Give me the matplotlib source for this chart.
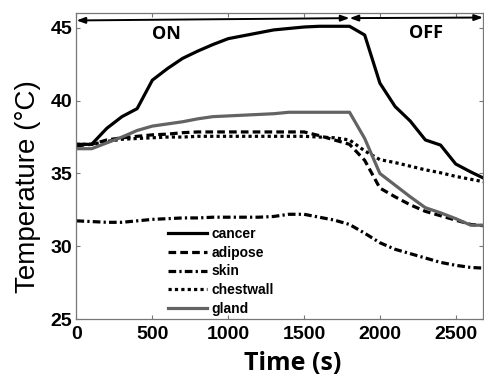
import numpy as np
import matplotlib
matplotlib.use("Agg")
import matplotlib.pyplot as plt

# Time axis (s) and tissue temperatures (deg C)
time_s = [0, 100, 200, 300, 400, 500, 600, 700, 800, 900, 1000, 1100, 1200, 1300,
          1400, 1500, 1600, 1700, 1800, 1900, 2000, 2100, 2200, 2300, 2400, 2500,
          2600, 2700]
cancer = [37.0, 37.0, 38.1, 38.9, 39.45, 41.4, 42.2, 42.9, 43.4, 43.85, 44.25, 44.45,
          44.65, 44.85, 44.95, 45.05, 45.1, 45.1, 45.1, 44.5, 41.2, 39.6, 38.6, 37.3,
          36.95, 35.65, 35.1, 34.6]
adipose = [36.9, 37.0, 37.3, 37.45, 37.55, 37.65, 37.7, 37.8, 37.85, 37.85, 37.85,
           37.85, 37.85, 37.85, 37.85, 37.85, 37.6, 37.3, 37.0, 35.9, 34.0, 33.4,
           32.85, 32.4, 32.1, 31.8, 31.5, 31.4]
skin = [31.75, 31.7, 31.65, 31.65, 31.75, 31.85, 31.9, 31.95, 31.95, 32.0, 32.0, 32.0,
        32.0, 32.05, 32.2, 32.2, 32.0, 31.8, 31.5, 30.9, 30.25, 29.8, 29.5, 29.2, 28.9,
        28.7, 28.55, 28.5]
chestwall = [37.0, 37.0, 37.2, 37.35, 37.4, 37.45, 37.5, 37.5, 37.55, 37.55, 37.55,
             37.55, 37.55, 37.55, 37.55, 37.55, 37.5, 37.45, 37.3, 36.55, 35.95, 35.75,
             35.5, 35.25, 35.05, 34.8, 34.6, 34.4]
gland = [36.7, 36.7, 37.1, 37.5, 37.95, 38.25, 38.4, 38.55, 38.75, 38.9, 38.95, 39.0,
         39.05, 39.1, 39.2, 39.2, 39.2, 39.2, 39.2, 37.4, 35.0, 34.2, 33.4, 32.65, 32.3,
         31.9, 31.45, 31.45]

x_ticks = [0, 500, 1000, 1500, 2000, 2500]
y_ticks = [25, 30, 35, 40, 45]
t_switch = 1800
t_end = 2680

fig = plt.figure(figsize=(4.84, 3.76), dpi=100)
ax = fig.add_axes([0.158, 0.151, 0.840, 0.814])

lw = 2.3
ax.plot(time_s, cancer, color="black", lw=lw, label="cancer")
ax.plot(time_s, adipose, color="black", lw=lw, dashes=(2.4, 1.3), label="adipose")
ax.plot(time_s, skin, color="black", lw=lw, dashes=(2.4, 1.0, 0.7, 1.0), label="skin")
ax.plot(time_s, chestwall, color="black", lw=lw, dashes=(1.0, 1.0), label="chestwall")
ax.plot(time_s, gland, color="#636363", lw=lw, label="gland")

ax.set_xlim(0, t_end)
ax.set_ylim(25, 46)
ax.set_xticks(x_ticks)
ax.set_yticks(y_ticks)

tick_font = {"family": "Liberation Sans", "weight": "bold", "size": 14}
ax.set_xticklabels([str(v) for v in x_ticks], fontdict=tick_font)
ax.set_yticklabels([str(v) for v in y_ticks], fontdict=tick_font)
ax.tick_params(direction="in", length=3, width=0.8, color="#777777",
               top=True, right=True)
ax.tick_params(axis="x", pad=5)
ax.tick_params(axis="y", pad=3)
for s in ax.spines.values():
    s.set_color("#777777")
    s.set_linewidth(0.9)

ax.set_xlabel("Time (s)", family="Open Sans", weight="bold", fontsize=18)
ax.set_ylabel("Temperature (\u00b0C)", family="Liberation Sans", fontsize=20)
ax.xaxis.set_label_coords(0.533, -0.104)
ax.yaxis.set_label_coords(-0.088, 0.434)

# ON / OFF arrows
arrow = dict(arrowstyle="<|-|>,head_length=0.5,head_width=0.18", color="black",
             lw=1.4, shrinkA=0, shrinkB=0)
ax.annotate("", xy=(0, 45.5), xytext=(t_switch, 45.66), arrowprops=arrow)
ax.annotate("", xy=(t_switch, 45.66), xytext=(t_end, 45.7), arrowprops=arrow,
            annotation_clip=False)
ax.text(595, 44.6, "ON", ha="center", va="center", family="Open Sans",
        weight="bold", fontsize=13)
ax.text(2302, 44.65, "OFF", ha="center", va="center", family="Open Sans",
        weight="bold", fontsize=13)

ax.legend(loc="lower left", bbox_to_anchor=(0.226, 0.012), frameon=False,
          prop={"family": "Liberation Sans", "weight": "bold", "size": 10},
          handlelength=2.8, handletextpad=0.3, labelspacing=0.33,
          borderpad=0, borderaxespad=0)

fig.savefig("out.png", dpi=100)
